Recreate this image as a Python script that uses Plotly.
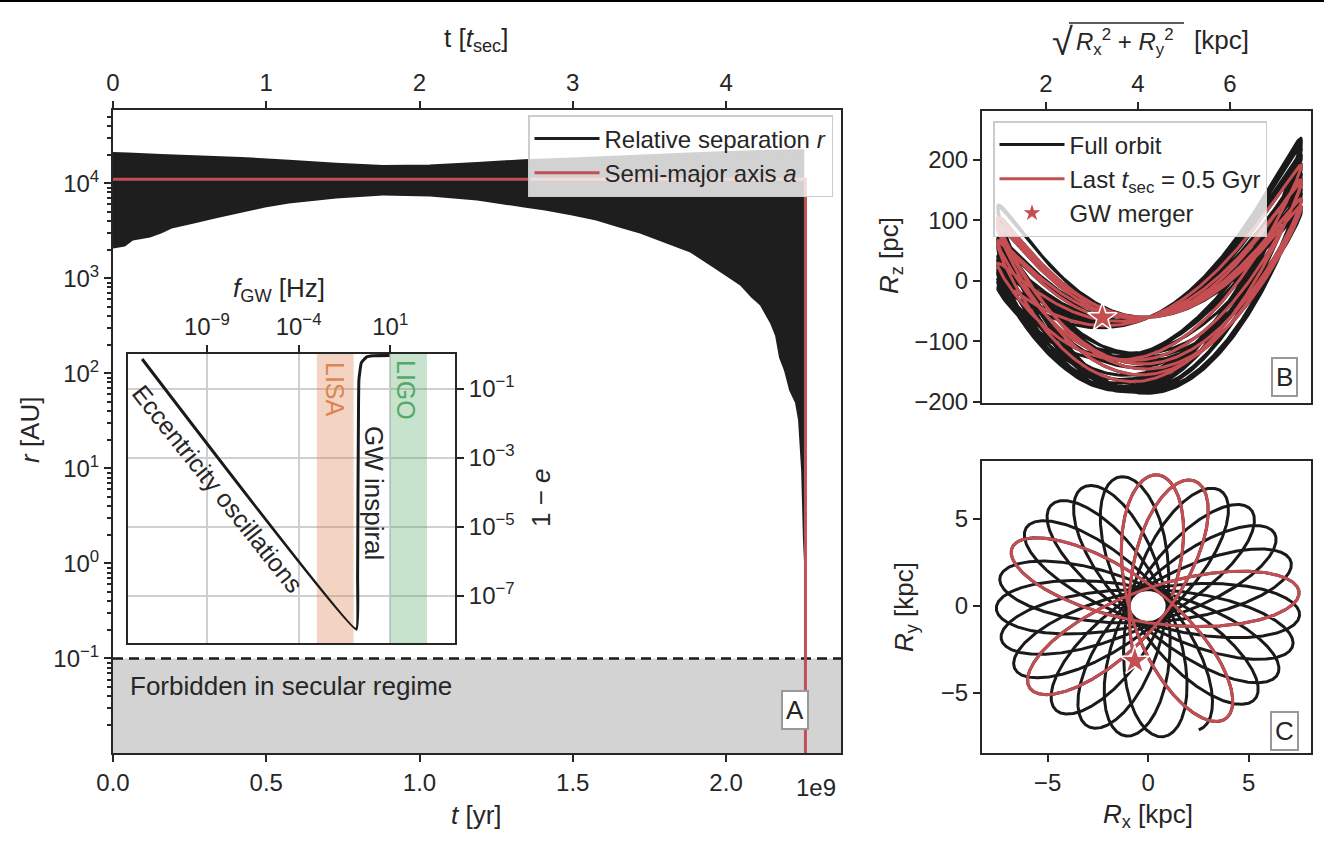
import numpy as np
import plotly.graph_objects as go

W, H = 1324, 861


def px(x):
    return x / W


def py(y):
    return 1 - y / H


INK = "#262626"
RED = "#c44e52"
ORANGE = "#dd8452"
GREEN = "#55a868"
BAND = "#1e1e1e"
FONT = "Liberation Sans, Arial, sans-serif"

# ---------------- Panel A: relative separation of the binary ----------------
# outer envelope (apocentre distance) of the oscillating separation
t_upper_gyr = [0.000, 0.049, 0.157, 0.264, 0.418, 0.574, 0.728, 0.881, 1.034, 1.188,
               1.341, 1.498, 1.651, 1.804, 1.958, 2.082, 2.144, 2.173, 2.206, 2.235,
               2.245, 2.251, 2.255]
r_upper_au = [20500, 20300, 19500, 19000, 18200, 17000, 15800, 15000, 15200, 16100,
              17200, 18000, 19000, 20000, 20800, 21400, 21700, 21800, 21900, 22000,
              22000, 22000, 22000]
# inner envelope (pericentre distance)
t_lower_gyr = [0.000, 0.039, 0.065, 0.121, 0.157, 0.192, 0.264, 0.333, 0.418, 0.496,
               0.574, 0.728, 0.881, 1.034, 1.188, 1.341, 1.409, 1.498, 1.576, 1.651,
               1.719, 1.804, 1.883, 1.958, 2.013, 2.046, 2.082, 2.111, 2.144, 2.160,
               2.173, 2.189, 2.206, 2.225, 2.235, 2.245, 2.251, 2.255]
r_lower_au = [2056, 2158, 2494, 2680, 2957, 3337, 3767, 4250, 4913, 5544,
              6109, 6900, 7420, 7244, 6580, 5544, 5164, 4570, 4048, 3420,
              2957, 2320, 1866, 1297, 993, 837, 627, 516, 334, 249,
              146, 107, 66, 49, 32, 9.5, 1.74, 0.95]
a_au = 1.1e4
t_merge_gyr = 2.259
secular_floor_au = 0.1
t_sec_gyr = 0.5
t_ticks_gyr = [0.0, 0.5, 1.0, 1.5, 2.0]
t_sec_ticks = [0, 1, 2, 3, 4]
r_tick_exp = [-1, 0, 1, 2, 3, 4]

# ---------------- Inset: eccentricity vs GW frequency ----------------
ecc_log_f = [-12.53, -0.85]
ecc_log_1me = [-0.125, -7.98]
gw_log_f = [-0.85, -0.78, -0.76, -0.73, -0.71, -0.58, -0.30, 0.06, 0.96]
gw_log_1me = [-7.98, -6.5, -4.0, -1.5, -0.73, -0.24, -0.07, -0.03, -0.02]
lisa_hz = [1e-3, 1e-1]
ligo_hz = [1e1, 1e3]
f_tick_exp = [-9, -4, 1]
e_tick_exp = [-1, -3, -5, -7]

# ---------------- Panels B, C: galactic orbit of the binary ----------------
apo_kpc = 7.55            # apocentre of the loops
peri_kpc = 0.95           # minor semi-axis / pericentre
precession_deg = 33.2     # turn of the loop axis per radial half-period
half_periods = 26.635     # radial half-periods until the merger
final_apo_deg = 72.7      # direction of the last apocentre
red_half_periods = 6.1    # half-periods within the last t_sec
z_offset_pc = 5.0
z_bend_pc = (110.0, 18.0)     # mean, swing (slow drift over the orbit)
z_split_gap_pc = 65.0
z_tilt_pc = (60.0, 50.0)      # mean, swing
R_ticks = [2, 4, 6]
Rz_ticks = [-200, -100, 0, 100, 200]
xy_ticks = [-5, 0, 5]

u = np.linspace(0.0, half_periods * np.pi, 9000)
prec = np.deg2rad(precession_deg)
alpha0 = np.deg2rad(final_apo_deg) - np.floor(half_periods) * prec
alpha = alpha0 + prec * u / np.pi
w = np.exp(1j * alpha) * (apo_kpc * np.cos(u) + 1j * peri_kpc * np.sin(u))
Rx, Ry = w.real, w.imag
Rcyl = np.abs(w)

R_mid = 0.5 * (apo_kpc + peri_kpc)
R_half = 0.5 * (apo_kpc - peri_kpc)
c = np.clip((Rcyl - R_mid) / R_half, -1, 1)
outbound = np.gradient(Rcyl) > 0
s = np.sqrt(1 - c ** 2) * np.where(outbound, -1.0, 1.0)
bend = z_bend_pc[0] + z_bend_pc[1] * np.sin(2 * u / 25.0 + 0.05)
split = bend - z_split_gap_pc
tilt = z_tilt_pc[0] + z_tilt_pc[1] * np.sin(2 * u / 9.0 + 0.4)
Rz = z_offset_pc + bend * (2 * c ** 2 - 1) - split * s + tilt * c

last = u >= (half_periods - red_half_periods) * np.pi

fig = go.Figure()

# forbidden region below the secular floor
fig.add_trace(go.Scatter(
    x=[0, 3e9, 3e9, 0, 0],
    y=[1e-3, 1e-3, secular_floor_au, secular_floor_au, 1e-3],
    mode="lines", fill="toself", fillcolor="#d3d3d3", line=dict(width=0),
    showlegend=False, hoverinfo="skip", xaxis="x", yaxis="y"))
fig.add_trace(go.Scatter(
    x=[0, 3e9], y=[secular_floor_au, secular_floor_au], mode="lines",
    line=dict(color="#1a1a1a", width=2.5, dash="10px,6px"),
    showlegend=False, hoverinfo="skip", xaxis="x", yaxis="y"))

t_up_yr = [t * 1e9 for t in t_upper_gyr]
t_lo_yr = [t * 1e9 for t in t_lower_gyr]
fig.add_trace(go.Scatter(
    x=t_up_yr + t_lo_yr[::-1], y=r_upper_au + r_lower_au[::-1],
    mode="lines", fill="toself", fillcolor=BAND, line=dict(width=0),
    showlegend=False, hoverinfo="skip", xaxis="x", yaxis="y"))
fig.add_trace(go.Scatter(
    x=t_up_yr, y=r_upper_au, mode="lines", line=dict(color=BAND, width=3),
    name="Relative separation <i>r</i>", legend="legend",
    xaxis="x", yaxis="y"))
fig.add_trace(go.Scatter(
    x=[0, t_merge_gyr * 1e9, t_merge_gyr * 1e9], y=[a_au, a_au, 1e-4],
    mode="lines", line=dict(color=RED, width=3),
    name="Semi-major axis <i>a</i>", legend="legend",
    xaxis="x", yaxis="y"))
# secular-time axis on top
fig.add_trace(go.Scatter(
    x=[t / t_sec_gyr for t in t_upper_gyr], y=r_upper_au, mode="lines",
    line=dict(width=0), opacity=0, showlegend=False, hoverinfo="skip",
    xaxis="x2", yaxis="y"))

# inset
for band, col in ((lisa_hz, "rgba(221,132,82,0.35)"), (ligo_hz, "rgba(85,168,104,0.33)")):
    fig.add_trace(go.Scatter(
        x=[band[0], band[1], band[1], band[0], band[0]],
        y=[1e-10, 1e-10, 10, 10, 1e-10],
        mode="lines", fill="toself", fillcolor=col, line=dict(width=0),
        showlegend=False, hoverinfo="skip", xaxis="x3", yaxis="y3"))
fig.add_trace(go.Scatter(
    x=10 ** np.array(ecc_log_f + gw_log_f[1:]),
    y=10 ** np.array(ecc_log_1me + gw_log_1me[1:]),
    mode="lines", line=dict(color="#1a1a1a", width=3, shape="spline", smoothing=0.3),
    showlegend=False, hoverinfo="skip", xaxis="x3", yaxis="y3"))

# panel B
fig.add_trace(go.Scatter(
    x=Rcyl, y=Rz, mode="lines", line=dict(color="#1a1a1a", width=3),
    name="Full orbit", legend="legend2", xaxis="x4", yaxis="y4"))
fig.add_trace(go.Scatter(
    x=Rcyl[last], y=Rz[last], mode="lines", line=dict(color=RED, width=3),
    name="Last <i>t</i><sub>sec</sub> = 0.5 Gyr", legend="legend2",
    xaxis="x4", yaxis="y4"))
fig.add_trace(go.Scatter(
    x=[Rcyl[-1]], y=[Rz[-1]], mode="markers",
    marker=dict(symbol="star", size=22, color=RED, line=dict(color="white", width=1.5)),
    name="GW merger", legend="legend2", xaxis="x4", yaxis="y4"))

# panel C
fig.add_trace(go.Scatter(
    x=Rx, y=Ry, mode="lines", line=dict(color="#1a1a1a", width=3),
    showlegend=False, xaxis="x5", yaxis="y5"))
fig.add_trace(go.Scatter(
    x=Rx[last], y=Ry[last], mode="lines", line=dict(color=RED, width=3),
    showlegend=False, xaxis="x5", yaxis="y5"))
fig.add_trace(go.Scatter(
    x=[Rx[-1]], y=[Ry[-1]], mode="markers",
    marker=dict(symbol="star", size=22, color=RED, line=dict(color="white", width=1.5)),
    showlegend=False, xaxis="x5", yaxis="y5"))

tickfont = dict(family=FONT, size=24, color=INK)
axis_common = dict(showline=True, linecolor=INK, linewidth=2, mirror=True,
                   ticks="outside", ticklen=7, tickwidth=2, tickcolor=INK,
                   showgrid=False, zeroline=False, tickfont=tickfont,
                   automargin=False)


def sup(e):
    return "10<sup>%s</sup>" % (str(e).replace("-", "\u2212"))


minor_r = [m * 10.0 ** k for k in range(-2, 5) for m in range(2, 10)]
minor_r = [v for v in minor_r if 10 ** -1.995 < v < 10 ** 4.77]

A_x = [px(113), px(841)]
A_y = [py(753), py(110)]

fig.update_layout(
    width=W, height=H, margin=dict(l=0, r=0, t=0, b=0, autoexpand=False),
    paper_bgcolor="white", plot_bgcolor="rgba(0,0,0,0)",
    font=dict(family=FONT, size=24, color=INK),
    xaxis=dict(axis_common, domain=A_x, anchor="y", range=[0, 2.375e9],
               tickmode="array", tickvals=[t * 1e9 for t in t_ticks_gyr],
               ticktext=["%.1f" % t for t in t_ticks_gyr]),
    xaxis2=dict(axis_common, overlaying="x", side="top", anchor="y", range=[0, 2.375 / t_sec_gyr],
                tickmode="array", tickvals=t_sec_ticks, ticktext=[str(v) for v in t_sec_ticks],
                mirror=False),
    yaxis=dict(axis_common, domain=A_y, anchor="x", type="log", range=[-1.995, 4.77],
               tickmode="array", tickvals=[10.0 ** e for e in r_tick_exp],
               ticktext=[sup(e) for e in r_tick_exp],
               minor=dict(tickmode="array", tickvals=minor_r, ticks="outside",
                          ticklen=4, tickwidth=1.5, tickcolor=INK, showgrid=False)),
    xaxis3=dict(axis_common, domain=[px(128), px(455)], anchor="y3", side="top",
                type="log", range=[-13.3, 4.53], tickmode="array",
                tickvals=[10.0 ** e for e in f_tick_exp], ticktext=[sup(e) for e in f_tick_exp],
                showgrid=True, gridcolor="#cfcfcf", gridwidth=1.5),
    yaxis3=dict(axis_common, domain=[py(643), py(354)], anchor="x3", side="right",
                type="log", range=[-8.38, 0.02], tickmode="array",
                tickvals=[10.0 ** e for e in e_tick_exp], ticktext=[sup(e) for e in e_tick_exp],
                showgrid=True, gridcolor="#cfcfcf", gridwidth=1.5),
    xaxis4=dict(axis_common, domain=[px(982), px(1311)], anchor="y4", side="top",
                range=[0.61, 7.76], tickmode="array", tickvals=R_ticks,
                ticktext=[str(v) for v in R_ticks]),
    yaxis4=dict(axis_common, domain=[py(403), py(111)], anchor="x4",
                range=[-202, 281], tickmode="array", tickvals=Rz_ticks,
                ticktext=[str(v).replace("-", "\u2212") for v in Rz_ticks]),
    xaxis5=dict(axis_common, domain=[px(982), px(1311)], anchor="y5",
                range=[-8.26, 8.1], tickmode="array", tickvals=xy_ticks,
                ticktext=[str(v).replace("-", "\u2212") for v in xy_ticks]),
    yaxis5=dict(axis_common, domain=[py(753), py(461)], anchor="x5",
                range=[-8.45, 8.33], tickmode="array", tickvals=xy_ticks,
                ticktext=[str(v).replace("-", "\u2212") for v in xy_ticks]),
    legend=dict(x=px(833), y=py(115), xanchor="right", yanchor="top",
                bgcolor="rgba(255,255,255,0.8)", bordercolor="#cccccc", borderwidth=1.5,
                font=dict(family=FONT, size=24, color=INK), itemwidth=65,
                tracegroupgap=0),
    legend2=dict(x=px(993), y=py(121), xanchor="left", yanchor="top",
                 bgcolor="rgba(255,255,255,0.8)", bordercolor="#cccccc", borderwidth=1.5,
                 font=dict(family=FONT, size=24, color=INK), itemwidth=65,
                 tracegroupgap=0),
)


def note(text, x, y, size=24, angle=0, color=INK, xanchor="center", yanchor="middle", **kw):
    fig.add_annotation(text=text, x=px(x), y=py(y), xref="paper", yref="paper",
                       showarrow=False, textangle=angle, xanchor=xanchor, yanchor=yanchor,
                       font=dict(family=FONT, size=size, color=color), **kw)


# axis titles
note("t [<i>t</i><sub>sec</sub>]", 476, 40, size=26)
note("<i>t</i> [yr]", 476, 815, size=26)
note("<i>r</i> [AU]", 30, 430, size=26, angle=-90)
note("1e9", 816, 787, size=24)
note("<i>f</i><sub>GW</sub> [Hz]", 279, 289, size=26)
note("1 \u2212 <i>e</i>", 541, 498, size=26, angle=-90)
# radius title: radical sign, radicand and unit with a vinculum line
note("\u221a", 1062, 42, size=38)
note("<i>R</i><sub>x</sub><sup>2</sup> + <i>R</i><sub>y</sub><sup>2</sup>", 1074, 42,
     size=24, xanchor="left")
note("[kpc]", 1192, 40, size=26, xanchor="left")
fig.add_shape(type="line", xref="paper", yref="paper", x0=px(1069), x1=px(1184),
              y0=py(23), y1=py(23), line=dict(color=INK, width=1.5))
note("<i>R</i><sub>z</sub> [pc]", 890, 256, size=26, angle=-90)
note("<i>R</i><sub>y</sub> [kpc]", 905, 607, size=26, angle=-90)
note("<i>R</i><sub>x</sub> [kpc]", 1148, 815, size=26)

# labels inside panels
note("Forbidden in secular regime", 128, 686, size=26, xanchor="left")
note("Eccentricity oscillations", 218, 489, size=25, angle=51.5)
note("GW inspiral", 374, 493, size=26, angle=90)
note("LISA", 335, 390, size=25, angle=90, color=ORANGE)
note("LIGO", 406, 390, size=25, angle=90, color=GREEN)
for lab, x, y in (("A", 795, 710), ("B", 1284, 377), ("C", 1284, 731)):
    note(lab, x, y, size=26, bgcolor="white", bordercolor="#999999",
         borderwidth=2, borderpad=3)

fig.add_shape(type="rect", xref="paper", yref="paper", x0=0, x1=1,
              y0=py(2), y1=1, fillcolor="black", line=dict(width=0))

fig.write_html("out.html")
